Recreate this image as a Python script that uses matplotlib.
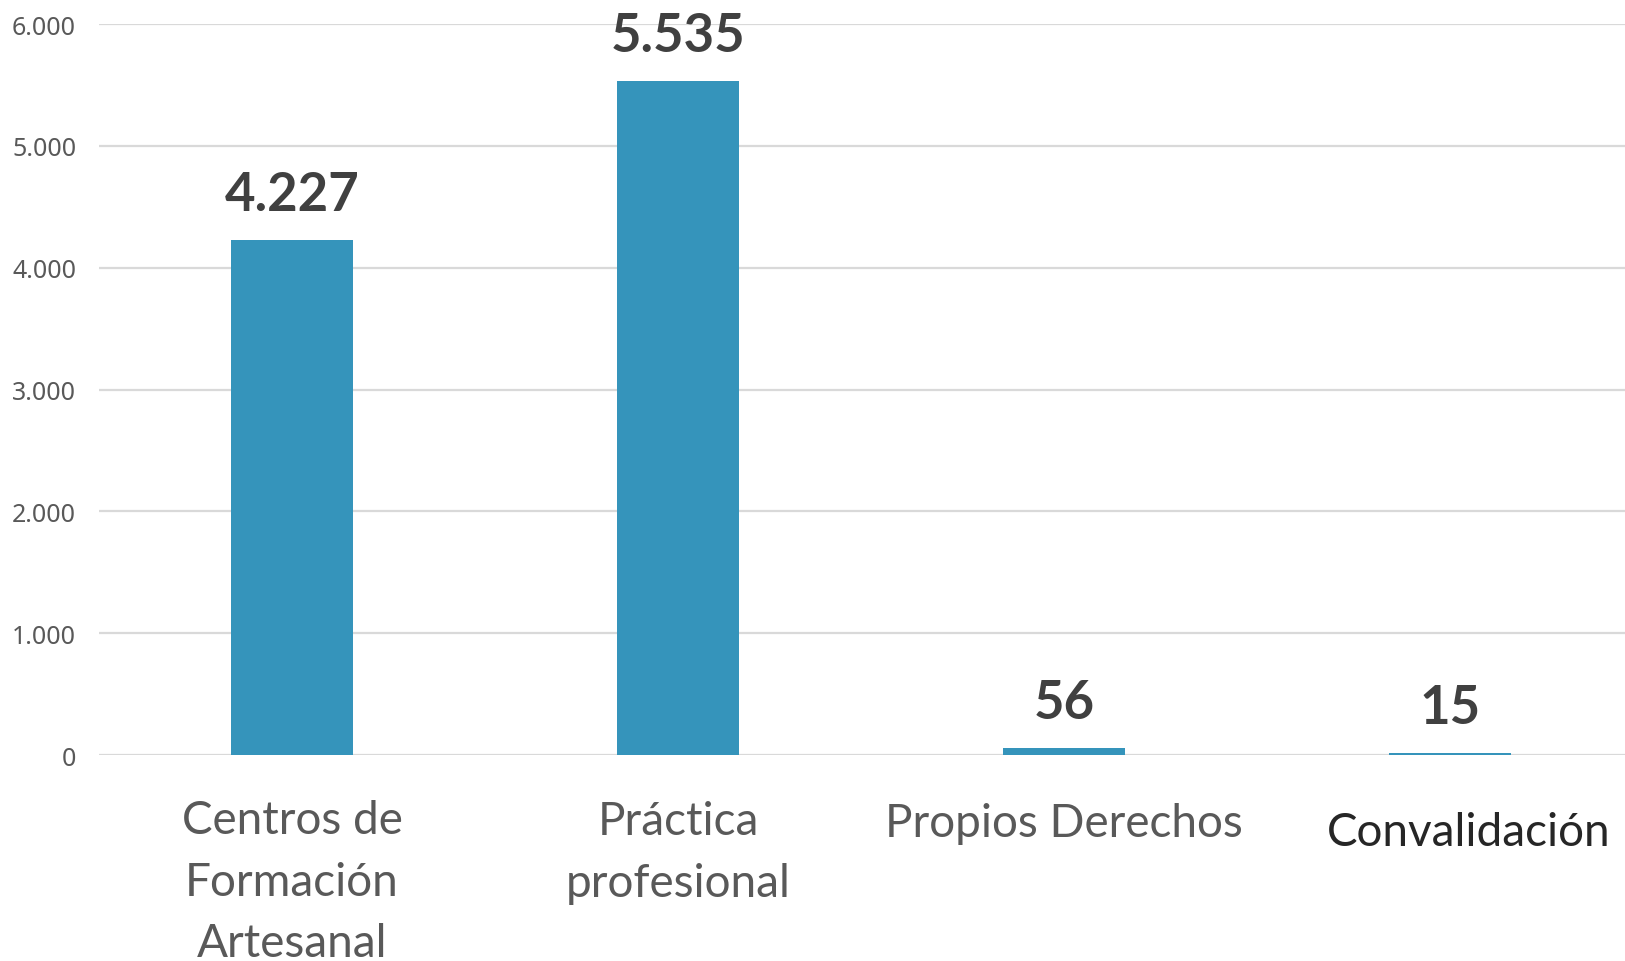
import matplotlib
matplotlib.use("Agg")
import matplotlib.pyplot as plt
import numpy as np

# data
categories = ["Centros de\nFormación\nArtesanal", "Práctica\nprofesional",
              "Propios Derechos", "Convalidación"]
values = [4227, 5535, 56, 15]
value_labels = ["4.227", "5.535", "56", "15"]
yticks = [0, 1000, 2000, 3000, 4000, 5000, 6000]
ytick_labels = ["0", "1.000", "2.000", "3.000", "4.000", "5.000", "6.000"]

bar_color = "#3594bb"
grid_color = "#d9d9d9"

fig = plt.figure(figsize=(16.25, 9.62), dpi=100)
ax = fig.add_axes([99 / 1625, 1 - 756 / 962, 1 - 99 / 1625, (756 - 25) / 962])

x = np.arange(len(categories))
ax.bar(x, values, width=0.316, color=bar_color, zorder=3)

ax.set_ylim(0, 6000)
ax.set_xlim(-0.5, 3.453)
ax.set_yticks(yticks)
ax.set_yticklabels(ytick_labels, fontsize=18, color="#595959", family="Noto Sans")
ax.tick_params(axis="y", length=0, pad=16.5)
ax.set_xticks([])
ax.grid(axis="y", color=grid_color, linewidth=1.6, zorder=0)
ax.set_axisbelow(True)
for s in ax.spines.values():
    s.set_visible(False)

# value labels above the bars
for xi, v, lab in zip(x, values, value_labels):
    ax.annotate(lab, (xi, v), xytext=(0, 21.5), textcoords="offset points",
                ha="center", va="baseline", fontsize=38, fontweight="bold",
                color="#404040", family="Lato")

# category labels (baseline of the last line, ~60px line pitch)
line_pt = 43.5
for xi, cat in zip(x, categories):
    nlines = cat.count("\n")
    if cat == "Convalidación":
        off, col = (13.5, -65), "#262626"
    else:
        off, col = (0, -58 - nlines * line_pt), "#595959"
    ax.annotate(cat, (xi, 0), xycoords=("data", "axes fraction"),
                xytext=off, textcoords="offset points", ha="center",
                va="baseline", fontsize=33, color=col, family="Lato",
                linespacing=1.58, annotation_clip=False)

fig.savefig("out.png", dpi=100, facecolor="white")
